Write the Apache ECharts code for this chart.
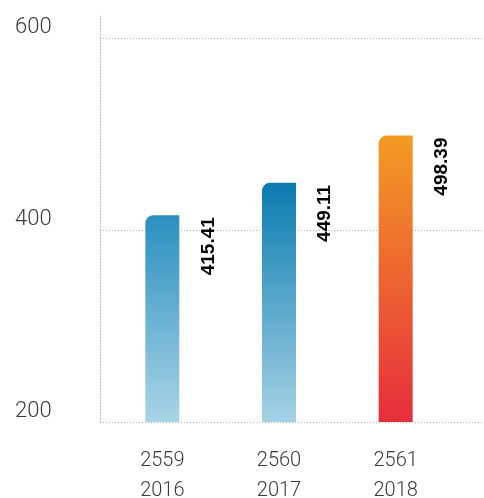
<!DOCTYPE html>
<html>
<head>
<meta charset="utf-8">
<script src="https://cdn.jsdelivr.net/npm/echarts@6/dist/echarts.min.js"></script>
<style>html,body{margin:0;padding:0;background:#fff}#c{width:484px;height:498px}</style>
</head>
<body>
<div id="c"></div>
<script>
const categories = ['2559\n2016', '2560\n2017', '2561\n2018'];
const values = [415.41, 449.11, 498.39];
const yTicks = [200, 400, 600];
const barColors = [
  ['#2a8fc0', '#a9d4e6'],
  ['#0a7bb0', '#a6d2e5'],
  ['#f39a24', '#e62e3c']
];

const chart = echarts.init(document.getElementById('c'));
const grad = (c) => new echarts.graphic.LinearGradient(0, 0, 0, 1, [{offset: 0, color: c[0]}, {offset: 1, color: c[1]}]);
const dotted = {color: '#b0b0b0', width: 1, type: [1, 2]};

chart.setOption({
  animation: false,
  grid: [
    {left: 104, right: 30, top: 38, bottom: 76, outerBoundsMode: 'none', containLabel: false},
    {left: 100, right: 0, top: 38, bottom: 76, outerBoundsMode: 'none', containLabel: false},
    {left: 100, right: 0, top: 14, bottom: 76, outerBoundsMode: 'none', containLabel: false}
  ],
  xAxis: [
    {gridIndex: 0, type: 'category', data: categories,
     axisLine: {show: false}, axisTick: {show: false},
     axisLabel: {margin: 24, fontSize: 20, lineHeight: 30, color: '#3a3a3a', fontFamily: 'Roboto', fontWeight: 300}},
    {gridIndex: 1, type: 'value', min: 0, max: 1, show: false},
    {gridIndex: 2, type: 'value', min: 0, max: 1, show: false}
  ],
  yAxis: [
    {gridIndex: 0, type: 'value', min: yTicks[0], max: yTicks[yTicks.length - 1], interval: 200,
     axisLine: {show: false}, axisTick: {show: false}, splitLine: {show: false},
     axisLabel: {margin: 89, align: 'left', verticalAlign: 'bottom', fontSize: 22, color: '#3a3a3a', fontFamily: 'Roboto', fontWeight: 300,
       formatter: (v) => yTicks.includes(v) ? String(v) : ''}},
    {gridIndex: 1, type: 'value', min: yTicks[0], max: yTicks[yTicks.length - 1], interval: 200,
     axisLine: {show: false}, axisTick: {show: false}, axisLabel: {show: false},
     splitLine: {show: true, lineStyle: dotted}},
    {gridIndex: 2, type: 'value', min: 0, max: 1,
     axisLine: {show: true, lineStyle: dotted}, axisTick: {show: false}, axisLabel: {show: false}, splitLine: {show: false}}
  ],
  series: [{
    type: 'bar',
    xAxisIndex: 0, yAxisIndex: 0,
    barWidth: 34,
    data: values.map((v, i) => ({value: v, itemStyle: {color: grad(barColors[i]), borderRadius: [8, 0, 0, 0]}})),
    label: {
      show: true,
      position: [63, 2],
      rotate: 90,
      align: 'right',
      verticalAlign: 'middle',
      fontSize: 19,
      fontWeight: 'bold',
      color: '#000',
      fontFamily: 'Liberation Sans',
      formatter: (p) => p.value.toFixed(2)
    }
  }]
});
</script>
</body>
</html>
